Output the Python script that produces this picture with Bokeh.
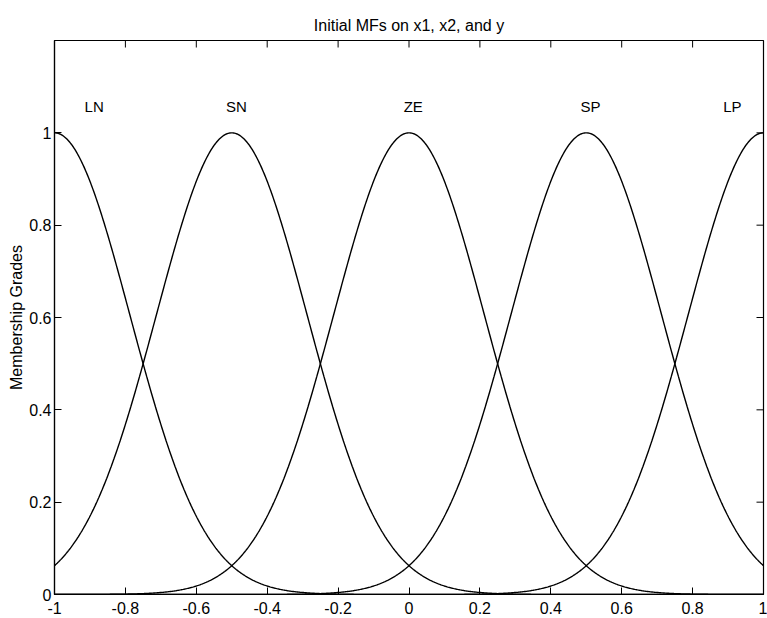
import numpy as np
from bokeh.plotting import figure
from bokeh.models import FixedTicker, Range1d, ColumnDataSource
from bokeh.core.properties import value
from bokeh.embed import file_html
from bokeh.resources import INLINE

# Membership function parameters (Gaussian MFs)
mf_names = ["LN", "SN", "ZE", "SP", "LP"]
mf_centers = [-1.0, -0.5, 0.0, 0.5, 1.0]
mf_sigmas = [0.2123, 0.2123, 0.2123, 0.2123, 0.2123]

# Label positions
label_x = [-0.888, -0.487, 0.012, 0.512, 0.912]
label_y = [1.056, 1.056, 1.056, 1.056, 1.056]

x_ticks = [-1.0, -0.8, -0.6, -0.4, -0.2, 0.0, 0.2, 0.4, 0.6, 0.8, 1.0]
x_tick_labels = ["-1", "-0.8", "-0.6", "-0.4", "-0.2", "0", "0.2", "0.4", "0.6", "0.8", "1"]
y_ticks = [0.0, 0.2, 0.4, 0.6, 0.8, 1.0]
y_tick_labels = ["0", "0.2", "0.4", "0.6", "0.8", "1"]

FONT = "Liberation Sans"
FS = "16px"

p = figure(width=767, height=618, x_range=Range1d(-1, 1), y_range=Range1d(0, 1.2),
           output_backend="svg", toolbar_location=None,
           min_border_left=54, min_border_right=4, min_border_top=40, min_border_bottom=24,
           background_fill_color="white", border_fill_color="white")

p.title.text = "Initial MFs on x1, x2, and y"
p.title.align = "center"
p.title.text_font = FONT
p.title.text_font_size = FS
p.title.text_font_style = "normal"
p.title.text_color = "black"
p.title.standoff = 14

p.grid.visible = False
p.outline_line_color = "black"
p.outline_line_width = 1.2

xs = np.linspace(-1, 1, 801)
for c, s in zip(mf_centers, mf_sigmas):
    ys = np.exp(-((xs - c) ** 2) / (2 * s * s))
    p.line(xs, ys, line_color="black", line_width=1.4)

src = ColumnDataSource(dict(x=label_x, y=label_y, t=mf_names))
p.text(x="x", y="y", text="t", source=src, text_align="center", text_baseline="middle",
       text_font=value(FONT), text_font_size="15px", text_color="black")

# inward ticks on top and right edges of the box
p.ray(x=x_ticks, y=[1.2] * len(x_ticks), length=7, length_units="screen",
      angle=-np.pi / 2, line_color="black", line_width=1)
p.ray(x=[1.0] * len(y_ticks), y=y_ticks, length=7, length_units="screen",
      angle=np.pi, line_color="black", line_width=1)

x_over = {v: l for v, l in zip(x_ticks, x_tick_labels)}
y_over = {v: l for v, l in zip(y_ticks, y_tick_labels)}

def style(ax, ticks, over, standoff):
    ax.ticker = FixedTicker(ticks=ticks)
    ax.minor_tick_line_color = None
    ax.major_tick_in = 7
    ax.major_tick_out = 0
    ax.major_tick_line_color = "black"
    ax.axis_line_color = "black"
    ax.axis_line_width = 1.2
    ax.major_label_overrides = over
    ax.major_label_text_font = FONT
    ax.major_label_text_font_size = FS
    ax.major_label_text_color = "black"
    ax.major_label_standoff = standoff

style(p.xaxis[0], x_ticks, x_over, 7)
style(p.yaxis[0], y_ticks, y_over, 3)
p.yaxis[0].axis_label = "Membership Grades"
p.yaxis[0].axis_label_text_font = FONT
p.yaxis[0].axis_label_text_font_size = FS
p.yaxis[0].axis_label_text_font_style = "normal"
p.yaxis[0].axis_label_text_color = "black"
p.yaxis[0].axis_label_standoff = 1

open("out.html", "w").write(file_html(p, INLINE))
